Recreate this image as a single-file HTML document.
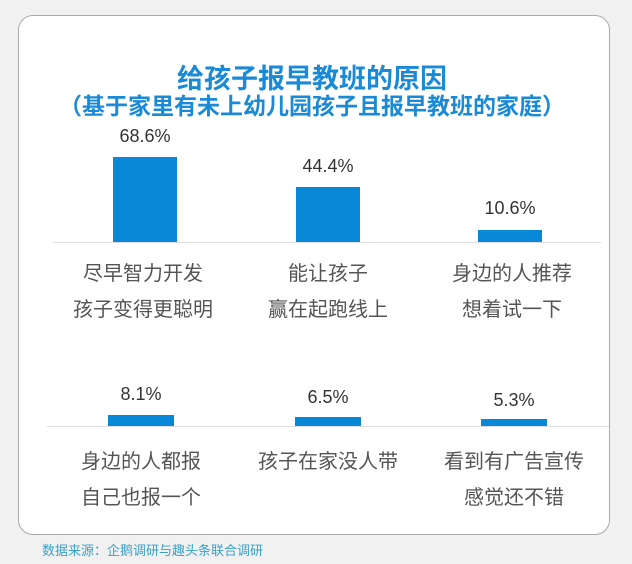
<!DOCTYPE html>
<html><head><meta charset="utf-8"><style>
body{margin:0;width:632px;height:564px;background:#f1f1f1;font-family:"Liberation Sans","Noto Sans CJK SC",sans-serif;position:relative;overflow:hidden}
.card{position:absolute;left:18px;top:15px;width:590px;height:518px;background:#fff;border:1px solid #aaa;border-radius:15px}
.t{position:absolute;white-space:nowrap;transform:translateX(-50%)}
.bar{position:absolute;background:#0a88d8}
.line{position:absolute;height:1px;background:#ddd}
.v{font-size:18px;color:#333}
.c{font-size:20px;color:#555;line-height:36px;text-align:center}
</style></head><body>
<div class="card"></div>
<div class="t" style="left:312px;top:57px;font-size:27px;font-weight:bold;color:#1a8ad6">给孩子报早教班的原因</div>
<div class="t" style="left:312px;top:87px;font-size:23px;font-weight:bold;color:#1a8ad6">（基于家里有未上幼儿园孩子且报早教班的家庭）</div>

<div class="line" style="left:53px;top:242px;width:548px"></div>
<div class="bar" style="left:113px;top:157px;width:64px;height:85px"></div>
<div class="bar" style="left:296px;top:187px;width:64px;height:55px"></div>
<div class="bar" style="left:478px;top:230px;width:64px;height:12px"></div>
<div class="t v" style="left:145px;top:126px">68.6%</div>
<div class="t v" style="left:328px;top:156px">44.4%</div>
<div class="t v" style="left:510px;top:198px">10.6%</div>
<div class="t c" style="left:143px;top:256px">尽早智力开发<br>孩子变得更聪明</div>
<div class="t c" style="left:328px;top:256px">能让孩子<br>赢在起跑线上</div>
<div class="t c" style="left:512px;top:256px">身边的人推荐<br>想着试一下</div>

<div class="line" style="left:47px;top:426px;width:562px"></div>
<div class="bar" style="left:108px;top:415px;width:66px;height:11px"></div>
<div class="bar" style="left:295px;top:417px;width:66px;height:9px"></div>
<div class="bar" style="left:481px;top:419px;width:66px;height:7px"></div>
<div class="t v" style="left:141px;top:384px">8.1%</div>
<div class="t v" style="left:328px;top:387px">6.5%</div>
<div class="t v" style="left:514px;top:390px">5.3%</div>
<div class="t c" style="left:141px;top:444px">身边的人都报<br>自己也报一个</div>
<div class="t c" style="left:328px;top:444px">孩子在家没人带</div>
<div class="t c" style="left:514px;top:444px">看到有广告宣传<br>感觉还不错</div>

<div style="position:absolute;left:42px;top:540px;font-size:13px;color:#3aa0c8;white-space:nowrap">数据来源：企鹅调研与趣头条联合调研</div>
</body></html>
